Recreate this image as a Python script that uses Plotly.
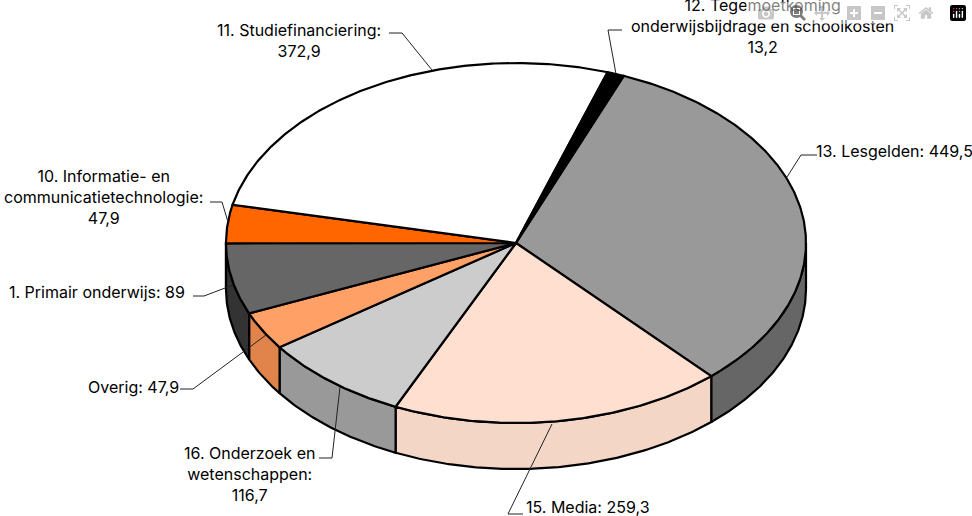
import numpy as np
import plotly.graph_objects as go

# clockwise from the top right of the pie
slices = ['13. Lesgelden', '15. Media', '16. Onderzoek en wetenschappen', 'Overig',
          '1. Primair onderwijs', '10. Informatie- en communicatietechnologie',
          '11. Studiefinanciering', '12. Tegemoetkoming onderwijsbijdrage en schoolkosten']
values = [449.5, 259.3, 116.7, 47.9, 89, 47.9, 372.9, 13.2]
top_colors = ['#999999', '#FFDFCF', '#CCCCCC', '#FFA066', '#666666', '#FF6600', '#FFFFFF', '#000000']
side_colors = ['#666666', '#F4D6C6', '#999999', '#E0844C', '#333333', '#FF6600', '#FFFFFF', '#000000']

label_texts = ['13. Lesgelden: 449,5', '15. Media: 259,3',
               '16. Onderzoek en<br>wetenschappen:<br>116,7', 'Overig: 47,9',
               '1. Primair onderwijs: 89',
               '10. Informatie- en<br>communicatietechnologie:<br>47,9',
               '11. Studiefinanciering:<br>372,9',
               '12. Tegemoetkoming<br>onderwijsbijdrage en schoolkosten<br>13,2']
label_x = [894, 588, 249, 133, 97, 103, 299, 762]
label_y = [151, 507, 474, 387, 292, 197, 40, 26]

leaders = ['M817,155 L801,155 L787,177', 'M523,514 L508,514 L552,424',
           'M319,458 L332,458 L340,387', 'M180,389 L193,389 L266,335',
           'M193,296 L204,296 L233,285', 'M210,202 L222,202 L228,222',
           'M389,33 L402,33 L432,70', 'M622,30 L608,30 L616,74']

# pie geometry in pixels
cx, cy = 516, 243
rx, ry = 290, 180
depth = 46
start_angle = 21.8


def rim(a0, a1, drop=0):
    a = np.radians(np.linspace(a0, a1, max(int(abs(a1 - a0) * 2), 2)))
    return cx + rx * np.sin(a), cy - ry * np.cos(a) + drop


angles = start_angle + np.cumsum([0] + values) / sum(values) * 360

fig = go.Figure()

# only the front half of the rim shows a side wall
for i in range(len(values)):
    a0, a1 = max(angles[i], 90), min(angles[i + 1], 270)
    if a0 >= a1:
        continue
    x1, y1 = rim(a0, a1)
    x2, y2 = rim(a1, a0, depth)
    fig.add_trace(go.Scatter(x=np.r_[x1, x2, x1[0]], y=np.r_[y1, y2, y1[0]], mode='lines',
                             fill='toself', fillcolor=side_colors[i],
                             line=dict(color='black', width=2.2), hoverinfo='skip'))

for i in range(len(values)):
    x1, y1 = rim(angles[i], angles[i + 1])
    fig.add_trace(go.Scatter(x=np.r_[cx, x1, cx], y=np.r_[cy, y1, cy], mode='lines',
                             fill='toself', fillcolor=top_colors[i], name=slices[i],
                             line=dict(color='black', width=2.2), hoverinfo='skip'))

for path in leaders:
    fig.add_shape(type='path', path=path, line=dict(color='#222222', width=1))

for text, x, y in zip(label_texts, label_x, label_y):
    fig.add_annotation(x=x, y=y, text=text, showarrow=False, xanchor='center', yanchor='middle',
                       font=dict(family='Inter', size=16, color='black'))

fig.update_xaxes(range=[0, 972], visible=False)
fig.update_yaxes(range=[516, 0], visible=False)
fig.update_layout(width=972, height=516, margin=dict(l=0, r=0, t=0, b=0), showlegend=False,
                  paper_bgcolor='white', plot_bgcolor='white')

# the page's default body margin would push the chart off the window
fig.write_html("out.html", post_script="document.body.style.margin='0';")
